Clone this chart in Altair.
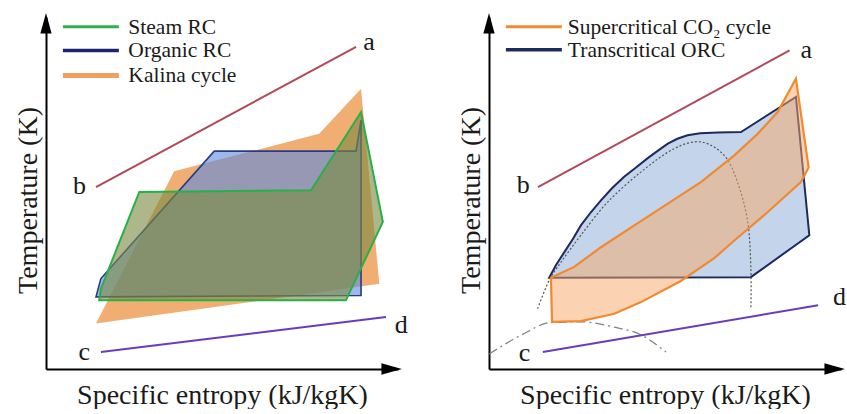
import altair as alt
import pandas as pd

FONT = "'Liberation Serif', 'Times New Roman', 'DejaVu Serif', serif"

# ---------------- LEFT PANEL (schematic T-s diagram, arbitrary units 0-100) ----------------
L_ab_x = [14.2, 88.1]
L_ab_y = [51.7, 91.5]
L_cd_x = [15.6, 96.6]
L_cd_y = [4.8, 14.8]
L_lbl_text = ["a", "b", "c", "d"]
L_lbl_x = [91.8, 9.5, 10.9, 100.9]
L_lbl_y = [92.9, 52.1, 4.8, 12.6]

kalina_x = [14.2, 36.4, 77.6, 89.5, 94.7]
kalina_y = [12.9, 56.2, 66.8, 79.6, 24.2]

organic_x = [14.2, 15.6, 47.8, 88.1, 89.5, 89.5]
organic_y = [20.5, 25.7, 61.9, 61.9, 70.7, 20.9]

steam_x = [15.1, 15.6, 26.5, 75.3, 89.5, 95.7, 85.2]
steam_y = [19.5, 22.8, 50.3, 50.8, 73.0, 41.8, 19.5]

L_leg_names = ["Steam RC", "Organic RC", "Kalina cycle"]
L_leg_y = [97.2, 90.5, 83.4]
L_leg_colors = ["#2fb24c", "#1c2470", "#f0a060"]
L_leg_widths = [3, 3.5, 5]

# ---------------- RIGHT PANEL ----------------
R_ab_x = [13.9, 85.4]
R_ab_y = [51.7, 90.5]
R_cd_x = [15.3, 93.5]
R_cd_y = [4.8, 18.1]
R_lbl_text = ["a", "b", "c", "d"]
R_lbl_x = [90.1, 9.7, 10.1, 99.6]
R_lbl_y = [90.5, 52.2, 4.6, 20.5]

orc_x = [17.1, 19.0, 21.4, 24.0, 26.1, 29.0, 31.8, 35.0, 38.4, 41.3, 45.1, 48.5,
         50.8, 53.5, 56.4, 60.0, 65.0, 71.6, 87.2, 91.0, 74.4]
orc_y = [25.9, 29.5, 33.2, 37.2, 40.8, 44.6, 47.9, 51.4, 54.6, 56.9, 59.9, 62.4,
         64.0, 65.4, 66.4, 67.0, 67.2, 67.3, 77.3, 38.0, 26.1]

co2_x = [17.6, 24.2, 31.8, 41.3, 50.8, 60.2, 69.7, 76.3, 82.0, 87.2, 90.8,
         88.6, 79.2, 69.7, 64.0, 54.5, 43.2, 35.6, 26.1, 17.9]
co2_y = [25.9, 29.0, 34.6, 40.8, 47.0, 53.1, 60.7, 66.8, 73.0, 82.5, 57.2,
         53.1, 44.6, 36.5, 31.5, 25.0, 19.0, 15.7, 13.6, 13.4]

dome_x = [13.8, 17.1, 20.5, 26.1, 33.7, 43.2, 52.6, 60.2, 66.8, 70.6, 73.5, 74.4, 74.4]
dome_y = [17.1, 25.2, 30.4, 38.0, 47.4, 56.0, 62.6, 64.5, 60.7, 53.1, 41.8, 28.5, 17.1]

sink_x = [0.1, 9.1, 17.6, 26.1, 35.6, 43.2, 50.3]
sink_y = [4.3, 9.6, 13.2, 13.4, 11.9, 9.7, 4.8]

R_leg_names = ["Supercritical CO\u2082 cycle", "Transcritical ORC"]
R_leg_y = [97.2, 90.7]
R_leg_colors = ["#f08a30", "#1c2a60"]
R_leg_widths = [3, 3.5]

LEG_X1, LEG_X2 = 4.8, 20.7
L_LEG_TX, R_LEG_TX = 23.4, 22.4

# arrow heads (axis ends)
ARROW_UP = "M0,-1L0.55,1L-0.55,1Z"
ARROW_RIGHT = "M1,0L-1,0.55L-1,-0.55Z"
arrow_x = [0.0, 98.2]
arrow_y = [98.2, 0.0]

XS = alt.Scale(domain=[0, 100], nice=False, zero=False)
YS = alt.Scale(domain=[0, 100], nice=False, zero=False)

AX_COMMON = dict(labels=False, ticks=False, grid=False, domain=True,
                 domainColor="#000000", domainWidth=2, titleFont=FONT,
                 titleFontSize=28, titleFontWeight="normal", titleColor="#1a1a1a")
X_AXIS = alt.Axis(title="Specific entropy (kJ/kgK)", titlePadding=12, **AX_COMMON)
Y_AXIS = alt.Axis(title="Temperature (K)", titlePadding=4, titleY=183, **AX_COMMON)


def xenc():
    return alt.X("x:Q", scale=XS, axis=X_AXIS)


def yenc():
    return alt.Y("y:Q", scale=YS, axis=Y_AXIS)


def df_of(xs, ys):
    return pd.DataFrame({"x": xs, "y": ys, "i": list(range(len(xs)))})


def enc(chart):
    return chart.encode(x=xenc(), y=yenc(), order=alt.Order("i:Q"))


def polygon(xs, ys, fill, fop, stroke=None, sw=0.0):
    kw = dict(fill=fill, fillOpacity=fop, interpolate="linear-closed")
    if stroke:
        kw.update(stroke=stroke, strokeWidth=sw, strokeJoin="miter")
    else:
        kw.update(strokeOpacity=0, strokeWidth=0)
    return enc(alt.Chart(df_of(xs, ys)).mark_line(**kw))


def line(xs, ys, color, sw, dash=None, interp="linear"):
    kw = dict(color=color, strokeWidth=sw, interpolate=interp)
    if dash:
        kw["strokeDash"] = dash
    return enc(alt.Chart(df_of(xs, ys)).mark_line(**kw))


def labels(texts, xs, ys, size=26):
    d = pd.DataFrame({"t": texts, "x": xs, "y": ys})
    return alt.Chart(d).mark_text(font=FONT, fontSize=size, color="#1a1a1a",
                                  align="center", baseline="middle").encode(
        x=xenc(), y=yenc(), text="t:N")


def legend(names, ys, colors, widths, tx):
    layers = []
    for n, y, c, w in zip(names, ys, colors, widths):
        d = pd.DataFrame({"x": [LEG_X1], "x2": [LEG_X2], "y": [y]})
        layers.append(alt.Chart(d).mark_rule(color=c, strokeWidth=w).encode(
            x=xenc(), x2="x2:Q", y=yenc()))
    d = pd.DataFrame({"t": names, "x": [tx] * len(names), "y": ys})
    layers.append(alt.Chart(d).mark_text(font=FONT, fontSize=21.5, color="#1a1a1a",
                                         align="left", baseline="middle", dy=1).encode(
        x=xenc(), y=yenc(), text="t:N"))
    return layers


def arrows():
    up = alt.Chart(df_of(arrow_x[:1], arrow_y[:1])).mark_point(
        shape=ARROW_UP, filled=True, color="#000000", opacity=1, size=420).encode(
        x=xenc(), y=yenc())
    rt = alt.Chart(df_of(arrow_x[1:], arrow_y[1:])).mark_point(
        shape=ARROW_RIGHT, filled=True, color="#000000", opacity=1, size=420).encode(
        x=xenc(), y=yenc())
    return [up, rt]


left_layers = [
    polygon(kalina_x, kalina_y, "#ee9a50", 0.8),
    polygon(organic_x, organic_y, "#5b8be0", 0.6, "#2a3a8a", 1.6),
    polygon(steam_x, steam_y, "#7a8a40", 0.62, "#27b04a", 2.0),
    line(L_ab_x, L_ab_y, "#b04a55", 2),
    line(L_cd_x, L_cd_y, "#6a3cb8", 2),
    labels(L_lbl_text, L_lbl_x, L_lbl_y),
] + legend(L_leg_names, L_leg_y, L_leg_colors, L_leg_widths, L_LEG_TX) + arrows()

right_layers = [
    polygon(orc_x, orc_y, "#9bb8de", 0.6, "#1c2a60", 2.0),
    line(dome_x, dome_y, "#555555", 1.2, dash=[2, 2], interp="cardinal"),
    line(sink_x, sink_y, "#808080", 1.3, dash=[9, 4, 2, 4], interp="monotone"),
    polygon(co2_x, co2_y, "#f8a868", 0.5, "#f08a30", 2.2),
    line(R_ab_x, R_ab_y, "#b04a5a", 2),
    line(R_cd_x, R_cd_y, "#6a3cb8", 2),
    labels(R_lbl_text, R_lbl_x, R_lbl_y),
] + legend(R_leg_names, R_leg_y, R_leg_colors, R_leg_widths, R_LEG_TX) + arrows()

left = alt.layer(*left_layers).properties(width=352, height=352)
right = alt.layer(*right_layers).properties(width=352, height=352)

chart = alt.hconcat(left, right, spacing=91, bounds="flush").properties(
    padding={"left": 14, "top": 13, "right": 0, "bottom": 0},
    background="white",
).configure_view(stroke=None).configure_axis(
    titleFont=FONT, titleFontSize=28, titleFontWeight="normal", titleColor="#1a1a1a"
).configure_text(font=FONT)

chart.save("out.html", embed_options={"renderer": "svg", "actions": False})
